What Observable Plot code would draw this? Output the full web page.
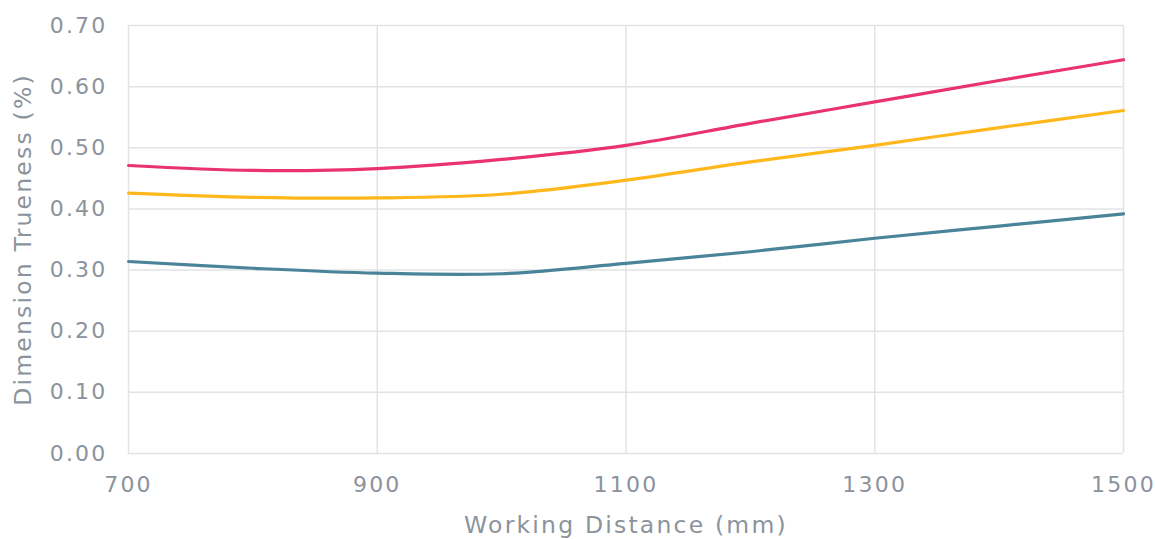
<!DOCTYPE html>
<html>
<head>
<meta charset="utf-8">
<script src="https://cdn.jsdelivr.net/npm/d3@7"></script>
<script src="https://cdn.jsdelivr.net/npm/@observablehq/plot@0.6"></script>
<style>
  html, body { margin: 0; padding: 0; background: #fff; }
  #chart svg { display: block; }
</style>
</head>
<body>
<div id="chart"></div>
<script>
const distances = [700, 800, 900, 1000, 1100, 1200, 1300, 1400, 1500];
const pinkSeries   = [0.471, 0.463, 0.466, 0.481, 0.504, 0.540, 0.575, 0.610, 0.644];
const yellowSeries = [0.426, 0.419, 0.418, 0.424, 0.447, 0.477, 0.504, 0.533, 0.561];
const tealSeries   = [0.314, 0.303, 0.295, 0.294, 0.311, 0.330, 0.352, 0.372, 0.392];
const seriesNames = ["Series A", "Series B", "Series C"];
const seriesColors = ["#e8336d", "#ffb71b", "#4a8499"];
const xTicks = [700, 900, 1100, 1300, 1500];
const yTicks = [0, 0.1, 0.2, 0.3, 0.4, 0.5, 0.6, 0.7];

const allSeries = [pinkSeries, yellowSeries, tealSeries];
const rows = [];
allSeries.forEach((vals, i) => vals.forEach((v, j) => rows.push({series: seriesNames[i], x: distances[j], y: v})));

const textColor = "#8b939c";
const gridColor = "#e1e3e6";

const chart = Plot.plot({
  width: 1155,
  height: 539,
  marginLeft: 128,
  marginRight: 32,
  marginTop: 25,
  marginBottom: 86,
  style: {fontFamily: "DejaVu Sans", fontSize: "22px", letterSpacing: "2.2px", color: textColor, background: "#fff"},
  x: {domain: [700, 1500]},
  y: {domain: [0, 0.7]},
  color: {domain: seriesNames, range: seriesColors},
  marks: [
    Plot.gridX(xTicks, {stroke: gridColor, strokeOpacity: 1, strokeWidth: 1.5}),
    Plot.gridY(yTicks, {stroke: gridColor, strokeOpacity: 1, strokeWidth: 1.5}),
    Plot.axisX(xTicks, {tickSize: 0, tickPadding: 23, fill: textColor, tickFormat: d3.format("d"), fontSize: 22, label: null}),
    Plot.axisX({ticks: [], tickSize: 0, fill: textColor, fontSize: 23.5, label: "Working Distance (mm)", labelAnchor: "center", labelArrow: "none", labelOffset: 79}),
    Plot.axisY(yTicks, {tickSize: 0, tickPadding: 21, fill: textColor, tickFormat: d3.format(".2f"), fontSize: 22, label: null}),
    Plot.axisY({ticks: [], tickSize: 0, fill: textColor, fontSize: 23.5, label: "Dimension Trueness (%)", labelAnchor: "center", labelArrow: "none", labelOffset: 114}),
    Plot.line(rows, {x: "x", y: "y", z: "series", stroke: "series", strokeWidth: 3.2, curve: "catmull-rom"})
  ]
});
document.getElementById("chart").appendChild(chart);
</script>
</body>
</html>
